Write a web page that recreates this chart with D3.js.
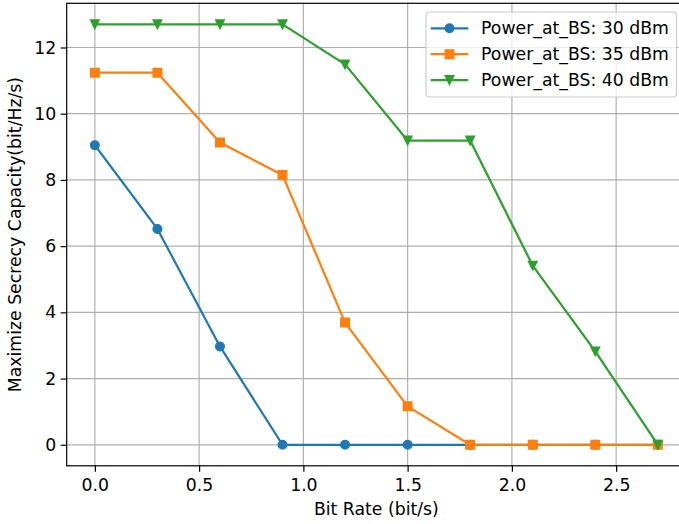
<!DOCTYPE html>
<html>
<head>
<meta charset="utf-8">
<script src="https://cdn.jsdelivr.net/npm/d3@7"></script>
<style>
  html, body { margin: 0; padding: 0; background: #fff; }
  svg { display: block; overflow: hidden; font-family: "DejaVu Sans", sans-serif; }
</style>
</head>
<body>
<div id="chart"></div>
<script>
/* ============================================
   SECRECY CAPACITY vs BIT RATE
   ============================================ */

const bitRates = [0.0, 0.3, 0.6, 0.9, 1.2, 1.5, 1.8, 2.1, 2.4, 2.7];
const seriesNames = ['Power_at_BS: 30 dBm', 'Power_at_BS: 35 dBm', 'Power_at_BS: 40 dBm'];
const power30 = [9.05, 6.52, 2.97, 0, 0, 0, 0, 0, 0, 0];
const power35 = [11.24, 11.24, 9.13, 8.15, 3.69, 1.16, 0, 0, 0, 0];
const power40 = [12.70, 12.70, 12.70, 12.70, 11.49, 9.19, 9.19, 5.41, 2.82, 0];
const xTicks = [0.0, 0.5, 1.0, 1.5, 2.0, 2.5];
const yTicks = [0, 2, 4, 6, 8, 10, 12];
const seriesColors = ['#1f77b4', '#ff7f0e', '#2ca02c'];
const seriesMarkers = ['circle', 'square', 'triangleDown'];

const FONT = '17.3px';

const Chart = {
  width: 679,
  height: 524,
  // plot area (the right spine falls just outside the picture)
  left: 66.7,
  right: 686,
  top: 3.3,
  bottom: 465.8,

  init() {
    this.svg = d3.select('#chart')
      .append('svg')
      .attr('width', this.width)
      .attr('height', this.height);

    const xMin = d3.min(bitRates), xMax = d3.max(bitRates);
    const xPad = (xMax - xMin) * 0.05;
    this.x = d3.scaleLinear()
      .domain([xMin - xPad, xMax + xPad])
      .range([this.left, this.right]);

    const yMax = d3.max(power40);
    const yPad = yMax * 0.05;
    this.y = d3.scaleLinear()
      .domain([-yPad, yMax + yPad])
      .range([this.bottom, this.top]);

    this.renderGrid();
    this.renderSeries();
    this.renderAxes();
    this.renderLegend();
  },

  renderGrid() {
    const g = this.svg.append('g');
    g.selectAll('.vgrid')
      .data(xTicks)
      .join('line')
      .attr('x1', d => this.x(d)).attr('x2', d => this.x(d))
      .attr('y1', this.top).attr('y2', this.bottom)
      .attr('stroke', '#b0b0b0')
      .attr('stroke-width', 1.2);
    g.selectAll('.hgrid')
      .data(yTicks)
      .join('line')
      .attr('x1', this.left).attr('x2', this.right)
      .attr('y1', d => this.y(d)).attr('y2', d => this.y(d))
      .attr('stroke', '#b0b0b0')
      .attr('stroke-width', 1.2);
  },

  markerPath(kind, s) {
    const h = s / 2;
    if (kind === 'circle') {
      return `M${h},0A${h},${h} 0 1,1 ${-h},0A${h},${h} 0 1,1 ${h},0Z`;
    }
    if (kind === 'square') {
      return `M${-h},${-h}H${h}V${h}H${-h}Z`;
    }
    // downward triangle
    return `M0,${h}L${-h},${-h}L${h},${-h}Z`;
  },

  renderSeries() {
    const all = [power30, power35, power40];
    const line = d3.line()
      .x((d, i) => this.x(bitRates[i]))
      .y(d => this.y(d));

    all.forEach((values, si) => {
      const g = this.svg.append('g');
      g.append('path')
        .attr('d', line(values))
        .attr('fill', 'none')
        .attr('stroke', seriesColors[si])
        .attr('stroke-width', 2.2)
        .attr('stroke-linejoin', 'round')
        .attr('stroke-linecap', 'square');

      g.selectAll('path.mk')
        .data(values)
        .join('path')
        .attr('class', 'mk')
        .attr('transform', (d, i) => `translate(${this.x(bitRates[i])},${this.y(d)})`)
        .attr('d', this.markerPath(seriesMarkers[si], 8.6))
        .attr('fill', seriesColors[si])
        .attr('stroke', seriesColors[si])
        .attr('stroke-width', 1.4);
    });
  },

  renderAxes() {
    const xAxis = d3.axisBottom(this.x)
      .tickValues(xTicks)
      .tickFormat(d3.format('.1f'))
      .tickSize(6)
      .tickPadding(6.5);

    const yAxis = d3.axisLeft(this.y)
      .tickValues(yTicks)
      .tickFormat(d3.format('d'))
      .tickSize(6)
      .tickPadding(4.5);

    const gx = this.svg.append('g')
      .attr('transform', `translate(0,${this.bottom})`)
      .call(xAxis);
    const gy = this.svg.append('g')
      .attr('transform', `translate(${this.left},0)`)
      .call(yAxis);

    [gx, gy].forEach(g => {
      g.select('.domain').remove();
      g.selectAll('line').attr('stroke', '#000').attr('stroke-width', 1.2);
      g.selectAll('text')
        .attr('fill', '#000')
        .style('font-family', '"DejaVu Sans", sans-serif')
        .style('font-size', FONT);
    });

    // frame
    this.svg.append('rect')
      .attr('x', this.left)
      .attr('y', this.top)
      .attr('width', this.right - this.left)
      .attr('height', this.bottom - this.top)
      .attr('fill', 'none')
      .attr('stroke', '#000')
      .attr('stroke-width', 1.2);

    this.svg.append('text')
      .attr('x', (this.left + this.right) / 2)
      .attr('y', 515)
      .attr('text-anchor', 'middle')
      .style('font-size', FONT)
      .text('Bit Rate (bit/s)');

    this.svg.append('text')
      .attr('transform', `translate(20.5,${(this.top + this.bottom) / 2}) rotate(-90)`)
      .attr('text-anchor', 'middle')
      .style('font-size', FONT)
      .text('Maximize Secrecy Capacity(bit/Hz/s)');
  },

  renderLegend() {
    const lg = this.svg.append('g');
    lg.append('rect')
      .attr('x', 426)
      .attr('y', 12)
      .attr('width', 250.5)
      .attr('height', 85)
      .attr('rx', 3.5)
      .attr('fill', '#fff')
      .attr('fill-opacity', 0.8)
      .attr('stroke', '#cccccc')
      .attr('stroke-width', 1.2);

    const rows = lg.selectAll('g.row')
      .data(seriesNames)
      .join('g')
      .attr('class', 'row')
      .attr('transform', (d, i) => `translate(0,${28.3 + i * 25.9})`);

    rows.append('line')
      .attr('x1', 430.7).attr('x2', 468.3)
      .attr('stroke', (d, i) => seriesColors[i])
      .attr('stroke-width', 2.2);

    rows.append('path')
      .attr('transform', 'translate(449.5,0)')
      .attr('d', (d, i) => this.markerPath(seriesMarkers[i], 8.6))
      .attr('fill', (d, i) => seriesColors[i])
      .attr('stroke', (d, i) => seriesColors[i])
      .attr('stroke-width', 1.4);

    rows.append('text')
      .attr('x', 481)
      .attr('y', 6)
      .style('font-size', FONT)
      .text(d => d);
  }
};

Chart.init();
</script>
</body>
</html>
